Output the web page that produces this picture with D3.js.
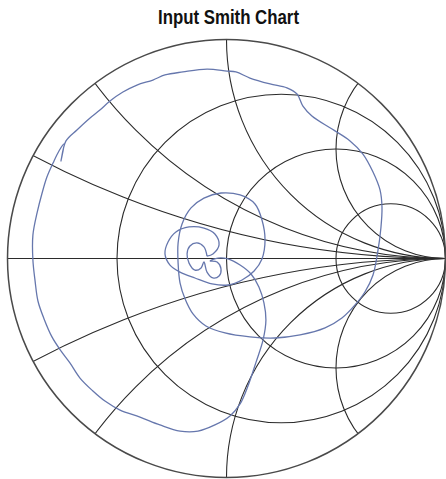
<!DOCTYPE html>
<html lang="en">
<head>
<meta charset="utf-8">
<title>Input Smith Chart</title>
<script src="https://cdn.jsdelivr.net/npm/d3@7/dist/d3.min.js"></script>
<style>
body{margin:0;background:#fff}
</style>
</head>
<body>
<div id="chart"></div>
<script>

// grid values (normalised impedance)
var resistances = [1/3, 1, 3]
var reactances = [0.25, 0.5, 1, 2]

var gammaRe = [-0.089,-0.103,-0.135,-0.167,-0.180,-0.171,-0.144,-0.116,-0.103,
 -0.089,-0.062,-0.034,-0.025,-0.043,-0.075,-0.039,0.007,0.062,0.112,0.148,0.171,0.180,
 0.167,0.135,0.098,0.062,0.016,-0.053,-0.130,-0.212,-0.304,-0.395,-0.486,-0.555,-0.610,
 -0.669,-0.715,-0.756,-0.797,-0.833,-0.861,-0.874,-0.884,-0.884,-0.865,-0.842,-0.820,
 -0.792,-0.765,-0.742,-0.756,-0.733,-0.683,-0.623,-0.578,-0.532,-0.473,-0.409,-0.336,
 -0.281,-0.199,-0.089,0.002,0.043,0.107,0.199,0.276,0.322,0.349,0.390,0.482,0.564,
 0.623,0.669,0.701,0.710,0.705,0.692,0.669,0.632,0.587,0.527,0.450,0.336,0.221,0.107,
 -0.007,-0.094,-0.153,-0.189,-0.212,-0.221,-0.221,-0.203,-0.162,-0.103,-0.025,0.062,
 0.130,0.162,0.176,0.162,0.126,0.071,0.007,-0.066,-0.144,-0.212,-0.258,-0.281,-0.267,
 -0.231,-0.171,-0.103,-0.053,-0.034,-0.062,-0.089]
var gammaIm = [0.011,0.053,0.071,0.057,0.021,-0.021,-0.053,-0.043,-0.016,
 -0.062,-0.089,-0.080,-0.048,-0.016,-0.011,0.002,-0.002,-0.030,-0.071,-0.130,-0.203,-0.281,
 -0.372,-0.473,-0.582,-0.664,-0.719,-0.760,-0.788,-0.788,-0.760,-0.724,-0.692,-0.651,-0.605,
 -0.546,-0.477,-0.422,-0.358,-0.276,-0.194,-0.103,-0.007,0.107,0.208,0.299,0.372,
 0.436,0.491,0.523,0.445,0.537,0.587,0.642,0.678,0.719,0.760,0.792,0.815,
 0.838,0.852,0.865,0.856,0.852,0.824,0.797,0.779,0.751,0.696,0.651,0.591,0.537,
 0.477,0.395,0.313,0.235,0.139,0.039,-0.075,-0.153,-0.212,-0.272,-0.317,-0.349,-0.363,-0.358,
 -0.340,-0.308,-0.253,-0.185,-0.112,-0.021,0.071,0.158,0.231,0.276,0.299,0.290,
 0.249,0.176,0.084,-0.002,-0.057,-0.098,-0.121,-0.116,-0.089,-0.062,-0.030,0.021,0.075,
 0.121,0.144,0.139,0.112,0.062,0.021,0.011]

var width = 446, height = 479
var cx = 226.5, cy = 258.5, R = 219

var svg = d3.select("#chart")
            .append("svg")
            .attr("width",width)
            .attr("height",height)

var xScale = d3.scaleLinear().domain([-1,1]).range([cx-R,cx+R])
var yScale = d3.scaleLinear().domain([-1,1]).range([cy+R,cy-R])
var rScale = d3.scaleLinear().domain([0,1]).range([0,R])

// title is a condensed bold face in the original, squeeze it
svg.append("text")
    .attr("x",cx+2)
    .attr("y",23.5)
    .attr("text-anchor","middle")
    .attr("textLength",141)
    .attr("lengthAdjust","spacingAndGlyphs")
    .style("font-family","'Liberation Sans',Arial,sans-serif")
    .style("font-weight","bold")
    .style("font-size","20px")
    .attr("fill","#111")
    .text("Input Smith Chart")

svg.append("clipPath")
    .attr("id","disk")
    .append("circle")
    .attr("cx",xScale(0))
    .attr("cy",yScale(0))
    .attr("r",rScale(1))

var grid = svg.append("g")
    .attr("clip-path","url(#disk)")
    .attr("fill","none")
    .attr("stroke","#2b2b2b")
    .attr("stroke-width",1.1)

// constant resistance circles
grid.selectAll(".rcircle")
    .data(resistances)
    .enter()
    .append("circle")
    .attr("class","rcircle")
    .attr("cx",function(d){ return xScale(d/(1+d)) })
    .attr("cy",yScale(0))
    .attr("r",function(d){ return rScale(1/(1+d)) })

// constant reactance arcs, both signs
var allX = reactances.concat(reactances.map(function(d){ return -d }))
grid.selectAll(".xcircle")
    .data(allX)
    .enter()
    .append("circle")
    .attr("class","xcircle")
    .attr("cx",xScale(1))
    .attr("cy",function(d){ return yScale(1/d) })
    .attr("r",function(d){ return rScale(1/Math.abs(d)) })

grid.append("line")
    .attr("x1",xScale(-1))
    .attr("x2",xScale(1))
    .attr("y1",yScale(0))
    .attr("y2",yScale(0))

// trace
var line = d3.line()
    .x(function(d,i){ return xScale(gammaRe[i]) })
    .y(function(d,i){ return yScale(gammaIm[i]) })
    .curve(d3.curveCatmullRom.alpha(0.5))

svg.append("path")
    .attr("d",line(gammaRe))
    .attr("fill","none")
    .attr("stroke","#6677ad")
    .attr("stroke-width",1.3)

svg.append("circle")
    .attr("cx",xScale(0))
    .attr("cy",yScale(0))
    .attr("r",rScale(1))
    .attr("fill","none")
    .attr("stroke","#4a4a4a")
    .attr("stroke-width",1.5)

</script>
</body>
</html>
